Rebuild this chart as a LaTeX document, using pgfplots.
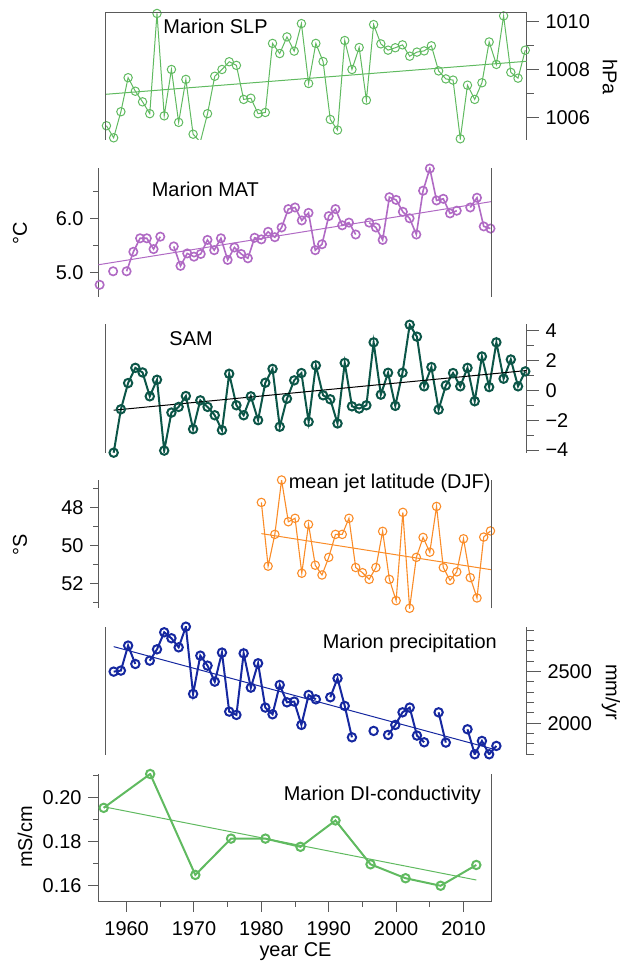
\documentclass[border=0pt]{standalone}
\usepackage{fontspec}
\setmainfont{Liberation Sans}
\usepackage{pgfplots}
\usepackage{pgfplotstable}
\pgfplotsset{compat=1.18}

\definecolor{slpgreen}{RGB}{96,186,96}
\definecolor{matpurple}{RGB}{176,106,196}
\definecolor{samteal}{RGB}{12,86,72}
\definecolor{jetorange}{RGB}{250,140,40}
\definecolor{precblue}{RGB}{22,40,160}
\definecolor{axgray}{RGB}{90,90,90}

\newcommand\fs{\fontsize{20}{24}\selectfont}

% Marion SLP (hPa)
\pgfplotstableread{
year val
1956 1005.67
1957 1005.17
1958 1006.25
1959 1007.66
1960 1007.10
1961 1006.66
1962 1006.17
1963 1010.32
1964 1006.08
1965 1008.00
1966 1005.81
1967 1007.59
1968 1005.32
1969 1005.00
1970 1006.17
1971 1007.72
1972 1008.00
1973 1008.32
1974 1008.17
1975 1006.76
1976 1006.81
1977 1006.17
1978 1006.22
1979 1009.08
1980 1008.66
1981 1009.35
1982 1008.76
1983 1009.90
1984 1007.42
1985 1009.08
1986 1008.33
1987 1005.93
1988 1005.49
1989 1009.20
1990 1008.00
1991 1008.91
1992 1006.73
1993 1009.86
1994 1009.06
1995 1008.80
1996 1008.90
1997 1009.02
1998 1008.55
1999 1008.72
2000 1008.77
2001 1008.98
2002 1007.94
2003 1007.61
2004 1007.56
2005 1005.13
2006 1007.35
2007 1006.76
2008 1007.45
2009 1009.14
2010 1008.21
2011 1010.22
2012 1007.88
2013 1007.64
2014 1008.80
}\slp

% Marion MAT (deg C)
\pgfplotstableread{
year val
1956 4.77
1957 nan
1958 5.02
1959 nan
1960 5.02
1961 5.38
1962 5.63
1963 5.63
1964 5.43
1965 5.66
1966 nan
1967 5.48
1968 5.12
1969 5.35
1970 5.29
1971 5.34
1972 5.60
1973 5.41
1974 5.63
1975 5.23
1976 5.46
1977 5.34
1978 5.26
1979 5.64
1980 5.61
1981 5.75
1982 5.65
1983 5.83
1984 6.17
1985 6.20
1986 5.96
1987 6.10
1988 5.41
1989 5.52
1990 6.04
1991 6.17
1992 5.87
1993 5.92
1994 5.70
1995 nan
1996 5.92
1997 5.83
1998 5.60
1999 6.39
2000 6.34
2001 6.12
2002 6.00
2003 5.70
2004 6.51
2005 6.92
2006 6.33
2007 6.36
2008 6.09
2009 6.14
2010 nan
2011 6.20
2012 6.38
2013 5.85
2014 5.81
}\mat

% SAM index
\pgfplotstableread{
year val
1957 -4.18
1958 -1.27
1959 0.49
1960 1.51
1961 1.20
1962 -0.40
1963 0.71
1964 -4.04
1965 -1.49
1966 -1.11
1967 -0.38
1968 -2.60
1969 -0.67
1970 -1.11
1971 -1.67
1972 -2.67
1973 1.11
1974 -1.00
1975 -1.67
1976 -0.40
1977 -2.00
1978 0.51
1979 1.44
1980 -2.44
1981 -0.56
1982 0.67
1983 1.16
1984 -2.11
1985 1.67
1986 -0.33
1987 -0.60
1988 -2.22
1989 1.84
1990 -1.07
1991 -1.22
1992 -1.00
1993 3.22
1994 -0.29
1995 1.18
1996 -1.04
1997 1.18
1998 4.40
1999 3.60
2000 0.27
2001 1.56
2002 -1.29
2003 0.33
2004 1.16
2005 0.27
2006 1.51
2007 -0.73
2008 2.27
2009 0.22
2010 3.22
2011 0.78
2012 2.07
2013 0.27
2014 1.27
}\sam

% mean jet latitude DJF (deg S)
\pgfplotstableread{
year val
1980 47.75
1981 51.08
1982 49.42
1983 46.58
1984 48.76
1985 48.58
1986 51.45
1987 48.90
1988 51.03
1989 51.54
1990 50.62
1991 49.42
1992 49.42
1993 48.58
1994 51.15
1995 51.42
1996 51.77
1997 51.15
1998 49.26
1999 51.77
2000 52.88
2001 48.27
2002 53.28
2003 50.62
2004 49.58
2005 50.35
2006 47.96
2007 51.15
2008 51.82
2009 51.38
2010 49.65
2011 51.68
2012 52.74
2013 49.56
2014 49.24
}\jet

% Marion precipitation (mm/yr)
\pgfplotstableread{
year val
1957 2500
1958 2510
1959 2752
1960 2574
1961 nan
1962 2606
1963 2716
1964 2881
1965 2823
1966 2735
1967 2935
1968 2284
1969 2655
1970 2558
1971 2403
1972 2684
1973 2113
1974 2081
1975 2677
1976 2345
1977 2581
1978 2152
1979 2087
1980 2371
1981 2203
1982 2210
1983 1984
1984 2274
1985 2232
1986 nan
1987 2252
1988 2435
1989 2168
1990 1864
1991 nan
1992 nan
1993 1926
1994 nan
1995 1887
1996 1984
1997 2106
1998 2152
1999 1881
2000 1816
2001 nan
2002 2106
2003 1813
2004 nan
2005 nan
2006 1942
2007 1700
2008 1829
2009 1700
2010 1781
}\prec

% Marion DI-conductivity (mS/cm)
\pgfplotstableread{
year val
1956.6 0.1953
1963.5 0.2106
1970.2 0.1650
1975.5 0.1814
1980.6 0.1814
1985.8 0.1777
1991.0 0.1896
1996.2 0.1698
2001.4 0.1635
2006.6 0.1601
2011.9 0.1695
}\cond

\pgfplotsset{
  panel/.style={
    scale only axis,
    anchor=south west,
    xmin=1955.8, xmax=2014.2,
    axis line style={draw=axgray, line width=1bp},
    every tick/.style={draw=axgray, line width=1bp},
    tick align=outside,
    major tick length=9bp, minor tick length=5bp,
    tick label style={font=\fs, text=black},
    unbounded coords=jump,
  },
  leftpanel/.style={panel, width=393.5bp, axis y line*=left, axis x line=none},
  rightpanel/.style={panel, width=421.7bp, axis y line*=right, axis x line=none,
    major tick length=12bp, minor tick length=7bp},
  series/.style={color=#1, mark=o, mark size=4.2bp, mark options={fill=white, solid}},
}

\begin{document}
\fs
\begin{tikzpicture}
\useasboundingbox (0,0) rectangle (620bp,965bp);

% ---- Marion SLP ----
\begin{axis}[rightpanel, name=p1, at={(105bp,825bp)}, height=127bp,
  ymin=1005.08, ymax=1010.34,
  ytick={1006,1008,1010}, yticklabels={1006,1008,1010},
  minor ytick={1005,1007,1009}]
\addplot[slpgreen, line width=1bp] table[x=year, y=val] {\slp};
\addplot[series=slpgreen, only marks, line width=1bp,
  restrict y to domain=1005.08:1011] table[x=year, y=val] {\slp};
\addplot[slpgreen, line width=1bp] coordinates {(1955.8,1006.97) (2014.2,1008.34)};
\end{axis}
\draw[axgray, line width=1bp] (p1.south west) -- (p1.north west) -- (p1.north east);

% ---- Marion MAT ----
\begin{axis}[leftpanel, name=p2, at={(98.3bp,668.3bp)}, height=128.7bp,
  ymin=4.55, ymax=6.93,
  ytick={5,6}, yticklabels={5.0,6.0},
  minor ytick={5.5,6.5},
  major tick length=8bp, minor tick length=5bp]
\addplot[series=matpurple, line width=1.6bp] table[x=year, y=val] {\mat};
\addplot[matpurple, line width=1bp] coordinates {(1955.8,5.14) (2014.2,6.31)};
\end{axis}
\draw[axgray, line width=1bp] (p2.south east) -- (p2.north east);

% ---- SAM ----
\begin{axis}[rightpanel, name=p3, at={(105bp,512bp)}, height=129bp,
  ymin=-4.2, ymax=4.45,
  ytick={-4,-2,0,2,4}, yticklabels={−4,−2,0,2,4},
  minor ytick={-3,-1,1,3}]
\addplot[series=samteal, line width=2bp] table[x=year, y=val] {\sam};
\addplot[black, line width=1bp] coordinates {(1957,-1.33) (2014.2,1.33)};
\end{axis}
\draw[axgray, line width=1bp] (p3.south west) -- (p3.north west);

% ---- mean jet latitude ----
\begin{axis}[leftpanel, name=p4, at={(98.3bp,356.7bp)}, height=128.3bp,
  y dir=reverse, ymin=46.58, ymax=53.28,
  ytick={48,50,52}, yticklabels={48,50,52},
  minor ytick={47,49,51,53},
  major tick length=8bp, minor tick length=5bp]
\addplot[series=jetorange, line width=1.1bp] table[x=year, y=val] {\jet};
\addplot[jetorange, line width=1bp] coordinates {(1980,49.38) (2014.2,51.27)};
\end{axis}
\draw[axgray, line width=1bp] (p4.south east) -- (p4.north east);

% ---- Marion precipitation ----
\begin{axis}[rightpanel, name=p5, at={(105bp,210bp)}, height=128.3bp,
  ymin=1693, ymax=2935,
  ytick={2000,2500}, yticklabels={2000,2500},
  minor ytick={1700,1800,...,2900},
  major tick length=14bp]
\addplot[series=precblue, line width=2bp] table[x=year, y=val] {\prec};
\addplot[precblue, line width=1bp] coordinates {(1957,2742) (2010,1742)};
\end{axis}
\draw[axgray, line width=1bp] (p5.south west) -- (p5.north west);

% ---- Marion DI-conductivity ----
\begin{axis}[panel, name=p6, at={(98.3bp,63.3bp)}, width=393.5bp, height=127.7bp,
  axis x line*=bottom, axis y line*=left,
  ymin=0.1529, ymax=0.2106,
  ytick={0.16,0.18,0.20}, yticklabels={0.16,0.18,0.20},
  minor ytick={0.17,0.19,0.21},
  xtick={1960,1970,1980,1990,2000,2010},
  xticklabels={1960,1970,1980,1990,2000,2010},
  minor xtick={1965,1975,1985,1995,2005},
  xticklabel style={yshift=-3bp},
  major tick length=10bp, minor tick length=5bp]
\addplot[series=slpgreen, line width=2bp] table[x=year, y=val] {\cond};
\addplot[slpgreen, line width=1bp] coordinates {(1956.6,0.1958) (2011.9,0.1627)};
\end{axis}
\draw[axgray, line width=1bp] (p6.south east) -- (p6.north east);

% ---- panel titles and axis labels ----
\begin{scope}[x=1bp, y=1bp]
\node[anchor=base west, inner sep=0] at (163.3,931.7) {Marion SLP};
\node[anchor=base west, inner sep=0] at (151.7,768.3) {Marion MAT};
\node[anchor=base west, inner sep=0] at (169.3,619) {SAM};
\node[anchor=base west, inner sep=0] at (288.7,476) {mean jet latitude (DJF)};
\node[anchor=base west, inner sep=0] at (322.7,316.7) {Marion precipitation};
\node[anchor=base west, inner sep=0] at (283.7,164.3) {Marion DI-conductivity};

\node[rotate=-90, inner sep=0] at (610,888) {hPa};
\node[rotate=90, inner sep=0] at (20,732) {°C};
\node[rotate=90, inner sep=0] at (20,420) {°S};
\node[rotate=-90, inner sep=0] at (611,273) {mm/yr};
\node[rotate=90, inner sep=0] at (25,128) {mS/cm};
\node[anchor=base, inner sep=0] at (295.5,9) {year CE};
\end{scope}
\end{tikzpicture}
\end{document}
